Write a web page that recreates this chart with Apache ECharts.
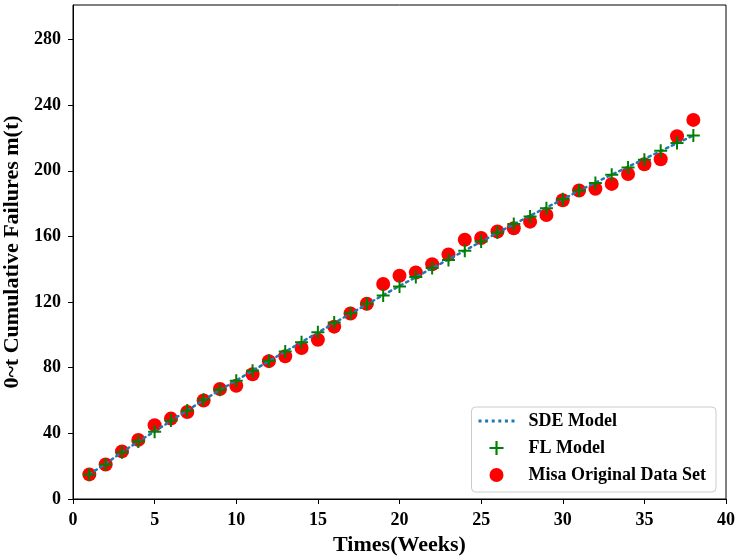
<!DOCTYPE html>
<html>
<head>
<meta charset="utf-8">
<script src="https://cdn.jsdelivr.net/npm/echarts@6/dist/echarts.min.js"></script>
<style>
  html, body { margin: 0; padding: 0; background: #fff; }
  #chart { width: 736px; height: 559px; }
</style>
</head>
<body>
<div id="chart"></div>
<script>
// weeks 1..38
const weeks = [1, 2, 3, 4, 5, 6, 7, 8, 9, 10, 11, 12, 13, 14, 15, 16, 17, 18, 19, 20,
  21, 22, 23, 24, 25, 26, 27, 28, 29, 30, 31, 32, 33, 34, 35, 36, 37, 38]

// Misa original data (red dots)
const misaData = [15, 21, 29, 36, 45, 49, 53, 60, 67, 69, 76, 84, 87, 92, 97, 105, 113, 119, 131, 136,
  138, 143, 149, 158, 159, 163, 165, 169, 173, 182, 188, 189, 192, 198, 204, 207, 221, 231]

// FL model (green crosses)
const flModel = [15, 21, 28.5, 35, 41, 47.8, 54, 60.4, 66.5, 72, 78.2, 84.2, 89.8, 95.5, 101.6, 107.5, 113.2, 118.9, 124, 129.5,
  135.2, 140.7, 145.7, 151.2, 156.9, 162.4, 167.5, 172.2, 177.2, 182.7, 188, 192.5, 197.6, 202, 206.7, 212.2, 216.9, 221.5]

// SDE model (dotted line)
const sdeModel = [15, 21.5, 28.5, 35, 41.2, 47.6, 54, 60.2, 66.4, 72.2, 78.2, 84, 89.8, 95.6, 101.4, 107.2, 113, 118.6, 124.2, 129.8,
  135.2, 140.6, 146, 151.4, 156.8, 162.2, 167.4, 172.6, 177.6, 182.6, 187.8, 192.8, 197.6, 202.4, 207.2, 212, 216.8, 221.5]

const yTicks = [0, 40, 80, 120, 160, 200, 240, 280]

const font = 'Liberation Serif'
const plusPath = 'path://M5.5,0H7.5V5.5H13V7.5H7.5V13H5.5V7.5H0V5.5H5.5Z'
// six small dots for the legend sample of the dotted line
const dotsPath = 'path://M0,0h3v3h-3z M6.6,0h3v3h-3z M13.2,0h3v3h-3z M19.8,0h3v3h-3z M26.4,0h3v3h-3z M33,0h3v3h-3z'

const chart = echarts.init(document.getElementById('chart'))

chart.setOption({
  animation: false,
  grid: {
    left: 73,
    right: 10,
    top: 5,
    bottom: 60,
    outerBoundsMode: 'none',
    containLabel: false,
    show: true,
    borderColor: '#000',
    borderWidth: 1
  },
  legend: {
    right: 20,
    bottom: 67,
    orient: 'vertical',
    padding: [5, 10, 8, 7],
    itemGap: 9,
    itemWidth: 36,
    itemHeight: 14,
    backgroundColor: '#fff',
    borderColor: '#ccc',
    borderWidth: 1,
    borderRadius: 4,
    formatter: name => '  ' + name,
    textStyle: { fontFamily: font, fontWeight: 'bold', fontSize: 18, color: '#000' },
    data: [
      { name: 'SDE Model', icon: dotsPath, itemStyle: { color: '#1f77b4' } },
      { name: 'FL Model', icon: plusPath },
      { name: 'Misa Original Data Set', icon: 'circle' }
    ]
  },
  xAxis: {
    type: 'value',
    min: 0,
    max: 40,
    interval: 5,
    name: 'Times(Weeks)',
    nameLocation: 'middle',
    nameGap: 25,
    nameTextStyle: { fontFamily: font, fontWeight: 'bold', fontSize: 22, color: '#000' },
    axisLine: { onZero: false, lineStyle: { color: '#000', width: 1 } },
    axisTick: { inside: false, length: 5, lineStyle: { color: '#000' } },
    axisLabel: { margin: 12, fontFamily: font, fontWeight: 'bold', fontSize: 18, color: '#000' },
    splitLine: { show: false }
  },
  yAxis: {
    type: 'value',
    min: 0,
    max: 301,
    interval: 40,
    name: '0~t Cumulative Failures m(t)',
    nameLocation: 'middle',
    nameGap: 50,
    nameTextStyle: { fontFamily: font, fontWeight: 'bold', fontSize: 22, color: '#000' },
    axisLine: { onZero: false, lineStyle: { color: '#000', width: 1 } },
    axisTick: { inside: false, length: 5, lineStyle: { color: '#000' }, customValues: yTicks },
    axisLabel: { margin: 12, fontFamily: font, fontWeight: 'bold', fontSize: 18, color: '#000', customValues: yTicks },
    splitLine: { show: false }
  },
  series: [
    {
      name: 'Misa Original Data Set',
      type: 'scatter',
      symbol: 'circle',
      symbolSize: 14,
      itemStyle: { color: '#ff0000', opacity: 1 },
      z: 2,
      data: weeks.map((w, i) => [w, misaData[i]])
    },
    {
      name: 'SDE Model',
      type: 'line',
      showSymbol: false,
      symbol: 'none',
      itemStyle: { color: '#1f77b4' },
      lineStyle: { color: '#1f77b4', width: 2.5, type: [2.5, 4], cap: 'round' },
      z: 3,
      data: weeks.map((w, i) => [w, sdeModel[i]])
    },
    {
      name: 'FL Model',
      type: 'scatter',
      symbol: plusPath,
      symbolSize: 13,
      itemStyle: { color: '#008000', opacity: 1 },
      z: 4,
      data: weeks.map((w, i) => [w, flModel[i]])
    }
  ]
})
</script>
</body>
</html>
